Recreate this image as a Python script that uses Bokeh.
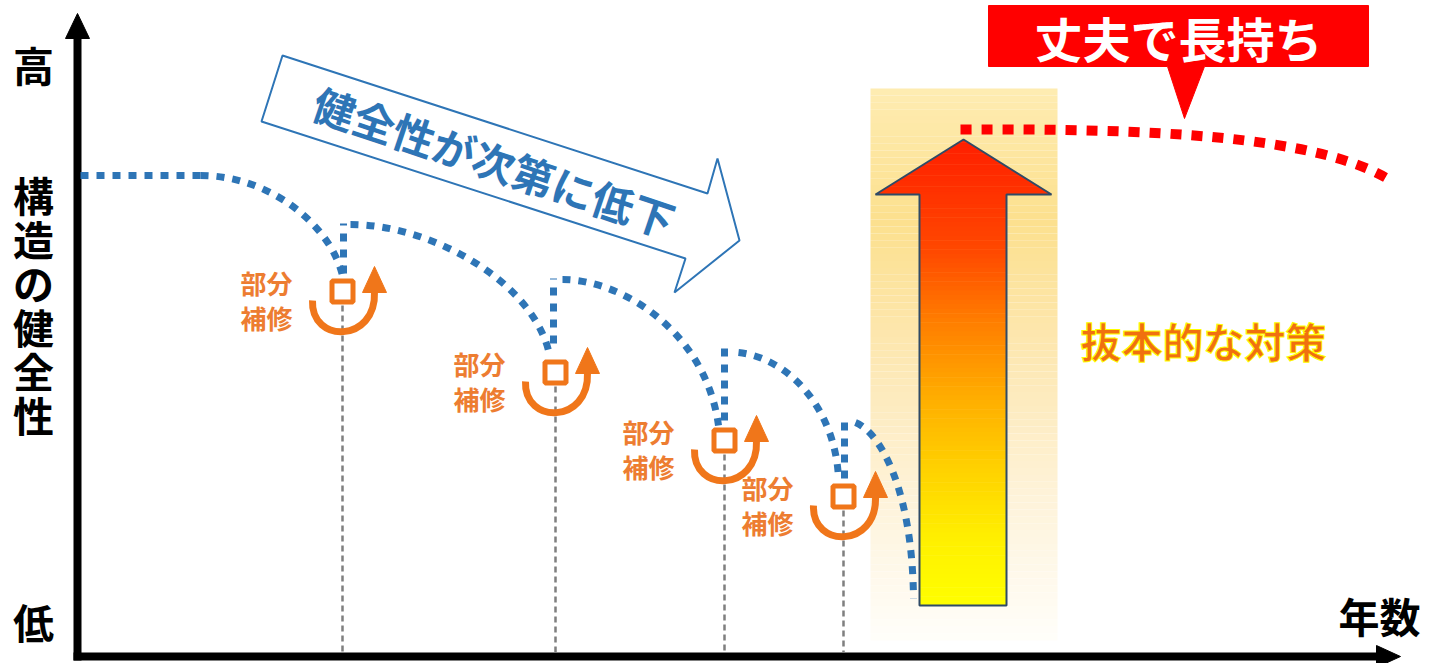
from bokeh.plotting import figure
from bokeh.models import Range1d
from bokeh.core.properties import value
from bokeh.embed import file_html
from bokeh.resources import INLINE

FONT = value("Noto Sans CJK JP")

# ---- data (coordinates in picture pixels) ----
repair_x = [342, 555, 724, 843]
repair_y = [291, 372, 440, 496]
repair_label = ["部分", "補修"]

# blue dotted health curves (start, control1, control2, end)
curve_x0 = [200, 350, 562, 738, 855]
curve_y0 = [175, 224, 279, 352, 422]
curve_cx0 = [270, 430, 620, 790, 880]
curve_cy0 = [175, 224, 279, 358, 432]
curve_cx1 = [330, 530, 705, 835, 912]
curve_cy1 = [225, 280, 330, 410, 490]
curve_x1 = [342, 548, 718, 838, 913]
curve_y1 = [275, 350, 425, 478, 598]
initial_x = [80, 200]
initial_y = [175, 175]

# vertical jumps after each repair
jump_x = [343, 553, 724, 844]
jump_top = [223, 278, 348, 415]
jump_bottom = [273, 343, 420, 478]

# red dotted curve after the fundamental measure
red_x = [960, 1150, 1310, 1385]
red_y = [129, 128, 135, 177]

ylabel_top = "高"
ylabel_mid = "構造の健全性"
ylabel_low = "低"
xlabel = "年数"
decline_text = "健全性が次第に低下"
measure_text = "抜本的な対策"
callout_text = "丈夫で長持ち"

BLUE = "#2E75B6"
ORANGE = "#F0761A"
ORANGE_T = "#ED7D31"

W, H = 1438, 663
p = figure(width=W, height=H, x_range=Range1d(0, W), y_range=Range1d(H, 0),
           output_backend="svg", toolbar_location=None, min_border=0)
p.axis.visible = False
p.grid.visible = False
p.outline_line_color = None
p.background_fill_color = "white"
p.border_fill_color = "white"


def interp(stops, y):
    for (ya, ca), (yb, cb) in zip(stops, stops[1:]):
        if ya <= y <= yb:
            t = (y - ya) / (yb - ya)
            c = [int(round(a + (b - a) * t)) for a, b in zip(ca, cb)]
            return "#%02x%02x%02x" % tuple(c)
    c = stops[-1][1] if y > stops[-1][0] else stops[0][1]
    return "#%02x%02x%02x" % tuple(c)


# ---- light gradient background band ----
bg_stops = [(88, (254, 236, 178)), (220, (252, 224, 142)), (360, (253, 232, 180)),
            (500, (254, 243, 218)), (640, (255, 254, 250))]
bl, br, bt, bb = 870, 1057, 88, 640
n = 80
ys = [bt + (bb - bt) * i / n for i in range(n + 1)]
p.quad(left=bl, right=br, top=ys[:-1], bottom=ys[1:],
       fill_color=[interp(bg_stops, (a + b) / 2) for a, b in zip(ys[:-1], ys[1:])],
       line_color=None)

# ---- axes arrows ----
p.segment(x0=77, y0=660, x1=77, y1=36, line_color="black", line_width=8)
p.patch(x=[65, 77, 89], y=[38, 13, 38], fill_color="black", line_color="black")
p.segment(x0=73, y0=656, x1=1380, y1=656, line_color="black", line_width=8)
p.patch(x=[1376, 1400, 1376], y=[645, 656, 667], fill_color="black", line_color="black")

p.text(x=[33], y=[63], text=[ylabel_top], text_font=FONT, text_font_style="bold",
       text_font_size="41px", text_align="center", text_baseline="middle", text_color="black")
p.text(x=[33] * len(ylabel_mid), y=[193 + 44 * i for i in range(len(ylabel_mid))],
       text=list(ylabel_mid), text_font=FONT, text_font_style="bold",
       text_font_size="41px", text_align="center", text_baseline="middle", text_color="black")
p.text(x=[33], y=[620], text=[ylabel_low], text_font=FONT, text_font_style="bold",
       text_font_size="41px", text_align="center", text_baseline="middle", text_color="black")
p.text(x=[1379], y=[614], text=[xlabel], text_font=FONT, text_font_style="bold",
       text_font_size="41px", text_align="center", text_baseline="middle", text_color="black")

# ---- gray dashed repair time markers ----
p.segment(x0=repair_x, y0=[y + 14 for y in repair_y], x1=repair_x, y1=[652] * 4,
          line_color="#7F7F7F", line_width=2.5, line_dash="6 4")

# ---- blue dotted curves ----
dot = dict(line_color=BLUE, line_width=7, line_dash="8 8")
p.line(x=initial_x, y=initial_y, **dot)
p.bezier(x0=curve_x0, y0=curve_y0, x1=curve_x1, y1=curve_y1,
         cx0=curve_cx0, cy0=curve_cy0, cx1=curve_cx1, cy1=curve_cy1, **dot)
p.segment(x0=jump_x, y0=jump_bottom, x1=jump_x, y1=jump_top, **dot)

# ---- repair markers ----
p.scatter(x=repair_x, y=repair_y, marker="square", size=21, fill_color="white",
          line_color=ORANGE, line_width=5)
p.bezier(x0=[x - 30 for x in repair_x], y0=[y + 9 for y in repair_y],
         cx0=[x - 32 for x in repair_x], cy0=[y + 52 for y in repair_y],
         cx1=[x + 34 for x in repair_x], cy1=[y + 52 for y in repair_y],
         x1=[x + 32 for x in repair_x], y1=[y + 0 for y in repair_y],
         line_color=ORANGE, line_width=7)
p.patches(xs=[[x + 20, x + 32, x + 44] for x in repair_x],
          ys=[[y + 1, y - 25, y + 1] for y in repair_y],
          fill_color=ORANGE, line_color=ORANGE)
p.text(x=[x - 76 for x in repair_x], y=[y - 9 for y in repair_y],
       text=[repair_label[0]] * 4, text_font=FONT, text_font_style="bold",
       text_font_size="26px", text_align="center", text_baseline="middle", text_color=ORANGE_T)
p.text(x=[x - 76 for x in repair_x], y=[y + 26 for y in repair_y],
       text=[repair_label[1]] * 4, text_font=FONT, text_font_style="bold",
       text_font_size="26px", text_align="center", text_baseline="middle", text_color=ORANGE_T)

# ---- decline block arrow ----
p.patch(x=[282, 707, 717, 739, 674, 685, 261], y=[55, 193, 158, 240, 292, 258, 121],
        fill_color="white", line_color=BLUE, line_width=2)
p.text(x=[494], y=[160], text=[decline_text], angle=-0.325, text_font=FONT,
       text_font_style="bold", text_font_size="42px", text_align="center",
       text_baseline="middle", text_color=BLUE)

# ---- big gradient arrow ----
arr_stops = [(139, (255, 30, 0)), (250, (255, 72, 0)), (320, (255, 125, 0)), (400, (255, 175, 0)),
             (470, (255, 210, 0)), (540, (255, 240, 0)), (605, (255, 255, 0))]
tip_x, tip_y, head_y, head_hw = 963, 139, 194, 88
sh_l, sh_r, sh_b = 919, 1006, 605
m = 20
hy = [tip_y + (head_y - tip_y) * i / m for i in range(m + 1)]
hxs, hys, hcs = [], [], []
for a, b in zip(hy[:-1], hy[1:]):
    wa = head_hw * (a - tip_y) / (head_y - tip_y)
    wb = head_hw * (b - tip_y) / (head_y - tip_y)
    hxs.append([tip_x - wa, tip_x + wa, tip_x + wb, tip_x - wb])
    hys.append([a, a, b + 0.5, b + 0.5])
    hcs.append(interp(arr_stops, (a + b) / 2))
p.patches(xs=hxs, ys=hys, fill_color=hcs, line_color=None)
k = 90
sy = [head_y + (sh_b - head_y) * i / k for i in range(k + 1)]
p.quad(left=sh_l, right=sh_r, top=sy[:-1], bottom=[v + 0.5 for v in sy[1:]],
       fill_color=[interp(arr_stops, (a + b) / 2) for a, b in zip(sy[:-1], sy[1:])],
       line_color=None)
p.patch(x=[tip_x, tip_x + head_hw, sh_r, sh_r, sh_l, sh_l, tip_x - head_hw],
        y=[tip_y, head_y, head_y, sh_b, sh_b, head_y, head_y],
        fill_color=None, line_color="#2F4A66", line_width=2)

p.text(x=[1203], y=[339], text=[measure_text], text_font=FONT, text_font_style="bold",
       text_font_size="41px", text_align="center", text_baseline="middle",
       text_color="#F07010", text_outline_color="#FFFF00")

# ---- red dotted long-life curve ----
p.bezier(x0=[red_x[0]], y0=[red_y[0]], cx0=[red_x[1]], cy0=[red_y[1]],
         cx1=[red_x[2]], cy1=[red_y[2]], x1=[red_x[3]], y1=[red_y[3]],
         line_color="#FF0000", line_width=10, line_dash="11 10")

# ---- callout ----
p.patch(x=[988, 1368, 1368, 1204, 1184, 1167, 988], y=[5, 5, 66, 66, 118, 66, 66],
        fill_color="#FF0000", line_color="#FF0000")
p.text(x=[1178], y=[36], text=[callout_text], text_font=FONT, text_font_style="bold",
       text_font_size="48px", text_align="center", text_baseline="middle", text_color="white")

open("out.html", "w").write(file_html(p, INLINE))
